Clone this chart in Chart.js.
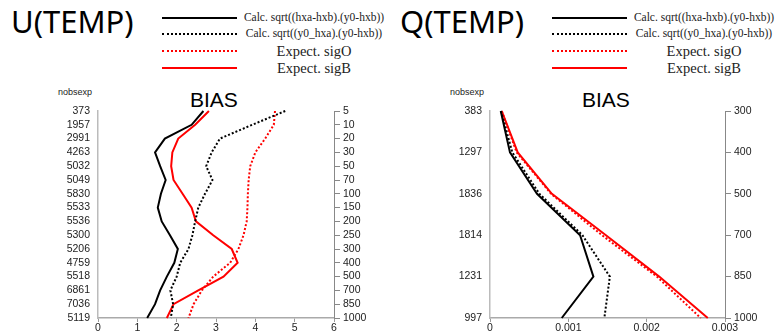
<!DOCTYPE html>
<html>
<head>
<meta charset="utf-8">
<script src="https://cdn.jsdelivr.net/npm/chart.js@4.4.0/dist/chart.umd.min.js"></script>
<style>
  body { margin: 0; width: 781px; height: 335px; background: #fff; position: relative; overflow: hidden;
         font-family: "Liberation Sans", sans-serif; color: #000; }
  .big { position: absolute; top: 6px; font-family: "Noto Sans", sans-serif; font-size: 31px; line-height: 1; }
  .bias { position: absolute; top: 89px; font-size: 21px; line-height: 1; }
  .nobs { position: absolute; top: 88px; font-size: 9px; line-height: 1; color: #222; }
  .smp { position: absolute; height: 0; width: 75px; }
  .ltx { position: absolute; width: 150px; text-align: center; white-space: nowrap; line-height: 1;
         font-family: "Liberation Serif", serif; color: #222; }
  canvas { position: absolute; top: 80px; }
</style>
</head>
<body>
<div class="big" style="left:11px">U(TEMP)</div>
<div class="big" style="left:400px">Q(TEMP)</div>
<div class="bias" style="left:190px">BIAS</div>
<div class="bias" style="left:582px">BIAS</div>
<div class="nobs" style="left:58px">nobsexp</div>
<div class="nobs" style="left:450px">nobsexp</div>
<div id="legU"></div>
<div id="legQ"></div>
<canvas id="chartU" width="390" height="255" style="left:0px"></canvas>
<canvas id="chartQ" width="391" height="255" style="left:390px"></canvas>
<script>
// series names, in legend order
var seriesNames = [
  "Calc. sqrt((hxa-hxb).(y0-hxb))",
  "Calc. sqrt((y0_hxa).(y0-hxb))",
  "Expect. sigO",
  "Expect. sigB"
];

// U(TEMP): pressure levels, obs counts, values
var uLevels = [5, 10, 20, 30, 50, 70, 100, 150, 200, 250, 300, 400, 500, 700, 850, 1000];
var uNobs = [373, 1957, 2991, 4263, 5032, 5049, 5830, 5533, 5536, 5300, 5206, 4759, 5518, 6861, 7036, 5119];
var uCalcA = [2.68, 2.38, 1.70, 1.45, 1.58, 1.72, 1.60, 1.52, 1.62, 1.83, 2.03, 1.94, 1.75, 1.58, 1.45, 1.25];
var uCalcB = [4.76, 3.92, 3.10, 2.89, 2.75, 2.91, 2.72, 2.55, 2.47, 2.40, 2.30, 2.09, 2.00, 1.84, 1.91, 1.85];
var uSigO = [4.50, 4.47, 4.25, 4.00, 3.87, 3.83, 3.81, 3.80, 3.78, 3.70, 3.57, 3.36, 2.93, 2.64, 2.43, 2.30];
var uSigB = [2.82, 2.47, 2.04, 1.89, 1.86, 1.92, 2.15, 2.38, 2.49, 2.93, 3.40, 3.55, 3.19, 2.55, 1.92, 1.75];

// Q(TEMP)
var qLevels = [300, 400, 500, 700, 850, 1000];
var qNobs = [383, 1297, 1836, 1814, 1231, 997];
var qCalcA = [0.000137, 0.000255, 0.000600, 0.00115, 0.00132, 0.000916];
var qCalcB = [0.000140, 0.000285, 0.000630, 0.00118, 0.00153, 0.00146];
var qSigO = [0.000150, 0.000340, 0.000780, 0.00143, 0.00213, 0.00269];
var qSigB = [0.000150, 0.000354, 0.000790, 0.00148, 0.00216, 0.00278];

var colors = ["#000", "#000", "#f00", "#f00"];
var dashes = [[], [2, 2], [2, 2], []];

function legend(id, left) {
  var el = document.getElementById(id);
  var rowsY = [18, 34, 51, 68];
  var sizes = [11.5, 11.5, 14.5, 14.5];
  var html = "";
  for (var i = 0; i < seriesNames.length; i++) {
    var style = dashes[i].length ? "dotted" : "solid";
    html += '<div class="smp" style="left:' + left + 'px;top:' + (rowsY[i] - 1) + 'px;border-top:2px ' + style + ' ' + colors[i] + '"></div>';
    html += '<div class="ltx" style="left:' + (left + 77) + 'px;top:' + (rowsY[i] - sizes[i] / 2) + 'px;font-size:' + sizes[i] + 'px">' + seriesNames[i] + '</div>';
  }
  el.innerHTML = html;
}
legend("legU", 162);
legend("legQ", 552);

function makeSets(levels, a, b, o, s) {
  var vals = [a, b, o, s];
  var order = [0, 1, 2, 3];
  return order.map(function (i) {
    return {
      label: seriesNames[i],
      data: levels.map(function (p, k) { return { x: vals[i][k], y: p }; }),
      yAxisID: "yr",
      borderColor: colors[i],
      borderDash: dashes[i],
      borderWidth: 2,
      pointRadius: 0,
      tension: 0,
      fill: false
    };
  });
}

function makeChart(canvasId, levels, nobs, sets, xmax, xstep, leftW, rightW, fmt) {
  var tickFont = { family: "Liberation Sans", size: 10.5 };
  return new Chart(document.getElementById(canvasId), {
    type: "line",
    data: { datasets: sets },
    options: {
      responsive: false,
      animation: false,
      layout: { padding: { top: 31, left: 0, right: 0, bottom: 0 } },
      plugins: { legend: { display: false }, tooltip: { enabled: false } },
      scales: {
        x: {
          type: "linear", min: 0, max: xmax,
          afterFit: function (sc) { sc.height = 17; },
          ticks: { stepSize: xstep, color: "#222", font: tickFont, padding: 0, callback: fmt },
          grid: { drawOnChartArea: false, tickLength: 4, color: "#999" },
          border: { color: "#aaa", width: 1.5 }
        },
        y: {
          type: "category", position: "left", labels: nobs,
          afterFit: function (sc) { sc.width = leftW; },
          ticks: { autoSkip: false, color: "#222", font: tickFont, padding: 8 },
          grid: { drawOnChartArea: false, drawTicks: false },
          border: { color: "#bbb", width: 1.5 }
        },
        yr: {
          type: "category", position: "right", labels: levels,
          afterFit: function (sc) { sc.width = rightW; },
          ticks: { autoSkip: false, color: "#222", font: tickFont, padding: 3 },
          grid: { drawOnChartArea: false, tickLength: 6, color: "#888" },
          border: { color: "#888", width: 1 }
        }
      }
    }
  });
}

makeChart("chartU", uLevels, uNobs, makeSets(uLevels, uCalcA, uCalcB, uSigO, uSigB),
  6, 1, 98, 56, function (v) { return v; });
makeChart("chartQ", qLevels, qNobs, makeSets(qLevels, qCalcA, qCalcB, qSigO, qSigB),
  0.003, 0.001, 100, 56, function (v) { return v === 0 ? "0" : v.toFixed(3); });
</script>
</body>
</html>
